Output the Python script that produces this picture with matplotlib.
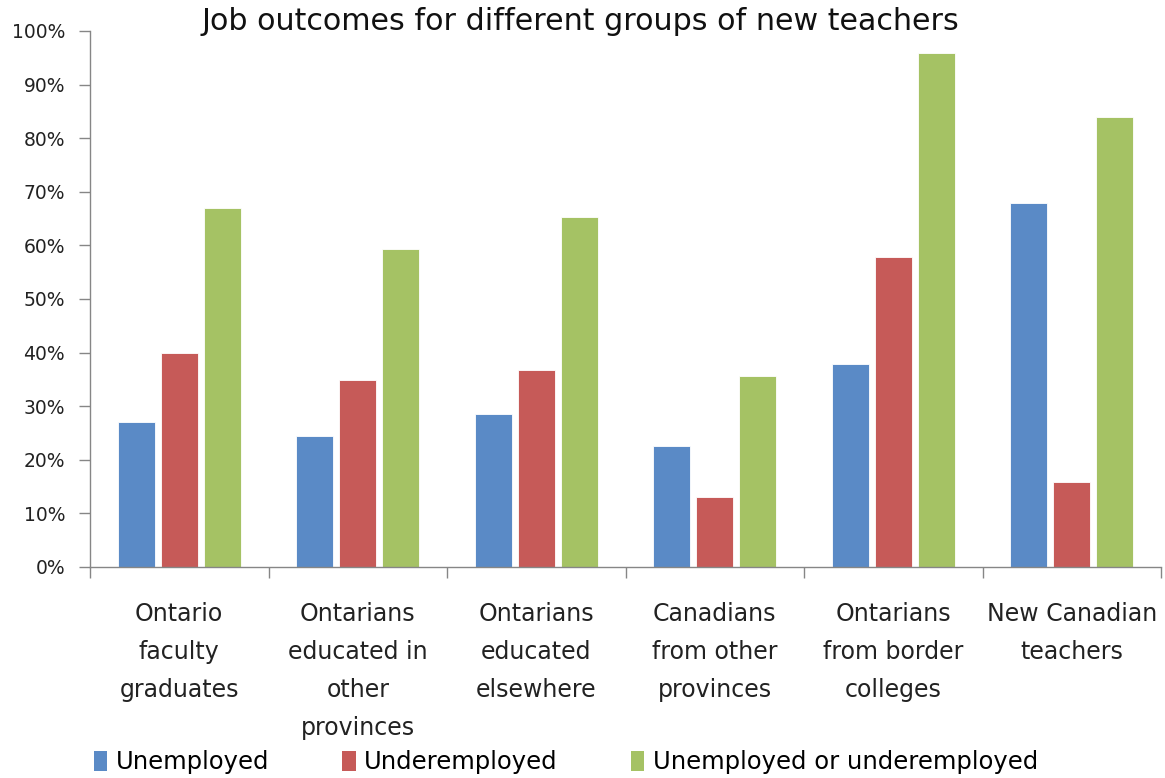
import matplotlib
matplotlib.use("Agg")
import matplotlib.pyplot as plt
from matplotlib.patches import Patch
from matplotlib.ticker import FuncFormatter, MultipleLocator
import numpy as np

categories = [
    "Ontario\nfaculty\ngraduates",
    "Ontarians\neducated in\nother\nprovinces",
    "Ontarians\neducated\nelsewhere",
    "Canadians\nfrom other\nprovinces",
    "Ontarians\nfrom border\ncolleges",
    "New Canadian\nteachers",
]
series_names = ["Unemployed", "Underemployed", "Unemployed or underemployed"]
unemployed = [27, 24.5, 28.5, 22.6, 37.9, 68]
underemployed = [40, 34.8, 36.8, 13, 57.8, 15.9]
either = [67, 59.3, 65.3, 35.7, 95.9, 84]
colors = ["#5A8AC6", "#C65A58", "#A5C264"]

plt.rcParams['font.family'] = ['DejaVu Sans']

fig = plt.figure(figsize=(11.65, 7.78), dpi=100)
ax = fig.add_axes([90/1165, (778-567)/778, (1161-90)/1165, (567-31)/778])

x = np.arange(len(categories))
width = 0.205
offset = 0.241
for i, (vals, c) in enumerate(zip([unemployed, underemployed, either], colors)):
    ax.bar(x + (i - 1) * offset, vals, width, color=c, edgecolor="#ffffff",
           linewidth=0.6, zorder=2)

ax.set_xlim(-0.5, len(categories) - 0.5)
ax.set_ylim(0, 100)
ax.yaxis.set_major_locator(MultipleLocator(10))
ax.yaxis.set_major_formatter(FuncFormatter(lambda v, p: f"{int(round(v))}%"))

ax.set_xticks(x)
ax.set_xticklabels(categories, fontsize=17, linespacing=1.75, va="top")
ax.set_xticks(np.arange(-0.5, len(categories)), minor=True)
ax.tick_params(axis="x", which="major", length=0, pad=25, colors="#222222")
ax.tick_params(axis="x", which="minor", length=8, width=1, color="#868686", direction="out")
ax.tick_params(axis="y", which="major", length=8, width=1, color="#868686",
               labelsize=13.5, labelcolor="#222222", pad=10)

for s in ["top", "right"]:
    ax.spines[s].set_visible(False)
for s in ["left", "bottom"]:
    ax.spines[s].set_color("#868686")
    ax.spines[s].set_linewidth(1)

fig.text(580/1165, 1 - 21/778, "Job outcomes for different groups of new teachers",
         ha="center", va="center", fontsize=21.7, color="#111111")

handles = [Patch(facecolor=c, edgecolor="none") for c in colors]
fig.legend(handles, series_names, loc="center left", bbox_to_anchor=(94/1165, 1 - 762/778),
           ncol=3, frameon=False, fontsize=17.5, handlelength=0.55, handleheight=0.9,
           handletextpad=0.35, columnspacing=3.0, borderpad=0, borderaxespad=0)

fig.savefig("out.png", dpi=100)
